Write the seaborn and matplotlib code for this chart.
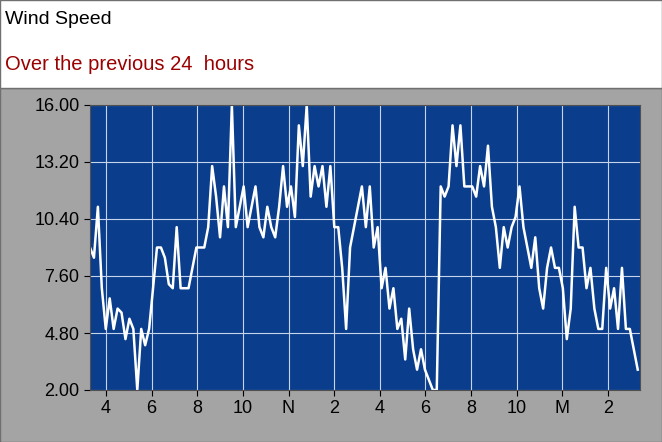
import numpy as np
import pandas as pd
import seaborn as sns
import matplotlib.pyplot as plt
from matplotlib.patches import Rectangle

# wind speed readings, evenly spaced over the previous 24 hours
speed = [9, 8.5, 11, 7, 5, 6.5, 5, 6, 5.8, 4.5, 5.5, 5, 2, 5, 4.2, 5, 7, 9, 9, 8.5,
         7.2, 7, 10, 7, 7, 7, 8, 9, 9, 9, 10, 13, 11.5, 9.5, 12, 10, 16, 10, 11, 12,
         10, 11, 12, 10, 9.5, 11, 10, 9.5, 11, 13, 11, 12, 10.5, 15, 13, 16, 11.5, 13, 12, 13,
         11, 13, 10, 10, 8, 5, 9, 10, 11, 12, 10, 12, 9, 10, 7, 8, 6, 7, 5, 5.5,
         3.5, 6, 4, 3, 4, 3, 2.5, 2, 2, 12, 11.5, 12, 15, 13, 15, 12, 12, 12, 11.5, 13,
         12, 14, 11, 10, 8, 10, 9, 10, 10.5, 12, 10, 9, 8, 9.5, 7, 6, 8, 9, 8, 8,
         7, 4.5, 6, 11, 9, 9, 7, 8, 6, 5, 5, 8, 6, 7, 5, 8, 5, 5, 4, 3]
hours = np.linspace(3.3, 27.3, len(speed))
tick_hours = [4, 6, 8, 10, 12, 14, 16, 18, 20, 22, 24, 26]
tick_labels = ["4", "6", "8", "10", "N", "2", "4", "6", "8", "10", "M", "2"]
y_ticks = [2.0, 4.8, 7.6, 10.4, 13.2, 16.0]

df = pd.DataFrame({"hour": hours, "speed": speed})

plt.rcParams["font.family"] = ["Liberation Sans", "DejaVu Sans"]

fig = plt.figure(figsize=(6.62, 4.42), dpi=100)
fig.patch.set_facecolor("white")
# gray frame under the title area
fig.patches.append(Rectangle((0, 0), 1, 1 - 88 / 442, transform=fig.transFigure,
                             facecolor="#a4a4a4", edgecolor="#707070", zorder=-1))
fig.patches.append(Rectangle((0, 1 - 88 / 442), 1, 88 / 442, transform=fig.transFigure,
                             facecolor="white", edgecolor="#707070", lw=1, zorder=-1))
fig.text(0.008, 0.955, "Wind Speed", fontsize=14, color="black", va="center")
fig.text(0.008, 0.855, "Over the previous 24  hours", fontsize=14.5, color="#9b0000", va="center")

ax = fig.add_axes([90 / 662, 1 - 390 / 442, 550 / 662, 285 / 442])
ax.set_facecolor("#0a3d8c")
sns.lineplot(data=df, x="hour", y="speed", ax=ax, color="white", lw=1.8)
ax.set_xlim(3.3, 27.4)
ax.set_ylim(2, 16)
ax.set_xticks(tick_hours)
ax.set_xticklabels(tick_labels)
ax.set_yticks(y_ticks)
ax.set_yticklabels([f"{v:.2f}" for v in y_ticks])
ax.grid(True, color="#c8d4ec", lw=0.8)
ax.set_axisbelow(True)
ax.tick_params(labelsize=13, length=4, color="black")
ax.set_xlabel("")
ax.set_ylabel("")
for s in ax.spines.values():
    s.set_color("#505050")

fig.savefig("out.png", dpi=100)
